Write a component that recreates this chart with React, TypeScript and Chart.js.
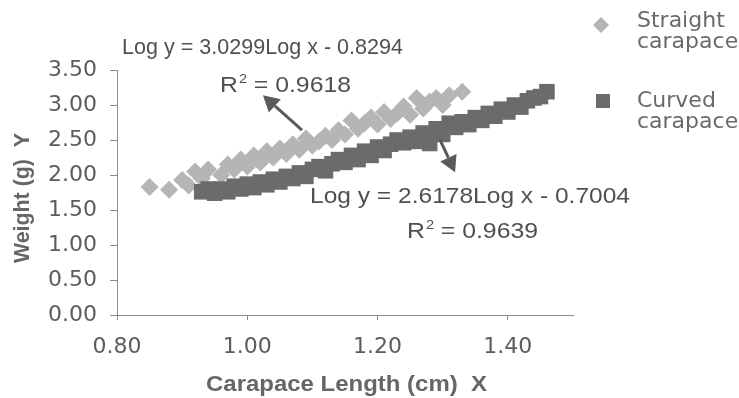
import React, { useEffect, useRef } from "react";
import { Chart, registerables } from "chart.js";

Chart.register(...registerables);

// ---- Data ----
const straightX = [0.85, 0.88, 0.90, 0.91, 0.92, 0.93, 0.94, 0.96, 0.97, 0.98, 0.99, 1.00, 1.01, 1.02, 1.03, 1.04, 1.05, 1.06, 1.07, 1.08, 1.09, 1.10, 1.11, 1.12, 1.13, 1.14, 1.15, 1.16, 1.17, 1.18, 1.19, 1.20, 1.21, 1.22, 1.23, 1.24, 1.25, 1.26, 1.27, 1.28, 1.29, 1.30, 1.31, 1.33];
const straightY = [1.83, 1.79, 1.93, 1.85, 2.05, 1.95, 2.08, 2.00, 2.15, 2.08, 2.22, 2.12, 2.28, 2.18, 2.34, 2.25, 2.38, 2.30, 2.44, 2.36, 2.52, 2.42, 2.48, 2.56, 2.50, 2.64, 2.58, 2.78, 2.66, 2.74, 2.82, 2.72, 2.90, 2.80, 2.88, 2.98, 2.86, 3.10, 2.95, 3.05, 3.10, 3.00, 3.14, 3.19];

const curvedX = [0.93, 0.94, 0.95, 0.96, 0.97, 0.98, 0.99, 1.00, 1.01, 1.02, 1.03, 1.04, 1.05, 1.06, 1.07, 1.08, 1.09, 1.10, 1.11, 1.12, 1.13, 1.14, 1.15, 1.16, 1.17, 1.18, 1.19, 1.20, 1.21, 1.22, 1.23, 1.24, 1.25, 1.26, 1.27, 1.28, 1.29, 1.30, 1.31, 1.32, 1.33, 1.34, 1.35, 1.36, 1.37, 1.38, 1.39, 1.40, 1.41, 1.42, 1.43, 1.44, 1.45, 1.46];
const curvedY = [1.76, 1.80, 1.74, 1.80, 1.76, 1.84, 1.80, 1.87, 1.82, 1.90, 1.86, 1.94, 1.90, 1.98, 1.95, 2.03, 1.98, 2.08, 2.12, 2.06, 2.16, 2.22, 2.18, 2.28, 2.22, 2.34, 2.28, 2.40, 2.35, 2.44, 2.50, 2.46, 2.54, 2.48, 2.60, 2.45, 2.66, 2.58, 2.74, 2.68, 2.76, 2.72, 2.82, 2.78, 2.88, 2.84, 2.94, 2.90, 3.00, 2.97, 3.06, 3.10, 3.12, 3.19];

const seriesNames = ["Straight", "Curved"];
const legendSecondLine = "carapace";
const xTitle = "Carapace Length (cm)  X";
const yTitle = "Weight (g)  Y";
const eqStraight = "Log y = 3.0299Log x - 0.8294";
const r2Straight = "0.9618";
const eqCurved = "Log y = 2.6178Log x - 0.7004";
const r2Curved = "0.9639";

// arrow annotations (data coordinates): [tailX, tailY, tipX, tipY]
const arrowStraight = [1.084, 2.64, 1.024, 3.14];
const arrowCurved = [1.296, 2.5, 1.319, 2.04];

const LIGHT = "#b5b5b5";
const DARK = "#6b6b6b";
const TEXT = "#5c5c5c";
const EQ_FONT = "22px 'Liberation Sans', Arial, sans-serif";

export default function App() {
  const ref = useRef<HTMLCanvasElement>(null);

  useEffect(() => {
    const canvas = ref.current;
    if (!canvas) return;

    // draw text stretched horizontally to a target width, starting at x (left)
    const fillFit = (ctx: CanvasRenderingContext2D, text: string, x: number, y: number, w: number) => {
      const m = ctx.measureText(text).width;
      ctx.save();
      ctx.translate(x, y);
      ctx.scale(w / m, 1);
      ctx.textAlign = "left";
      ctx.fillText(text, 0, 0);
      ctx.restore();
    };

    const drawArrow = (ctx: CanvasRenderingContext2D, x1: number, y1: number, x2: number, y2: number) => {
      const ang = Math.atan2(y2 - y1, x2 - x1);
      const headLen = 16;
      const headW = 9;
      const bx = x2 - Math.cos(ang) * headLen;
      const by = y2 - Math.sin(ang) * headLen;
      ctx.save();
      ctx.strokeStyle = "#5a5a5a";
      ctx.fillStyle = "#5a5a5a";
      ctx.lineWidth = 3;
      ctx.beginPath();
      ctx.moveTo(x1, y1);
      ctx.lineTo(bx, by);
      ctx.stroke();
      ctx.beginPath();
      ctx.moveTo(x2, y2);
      ctx.lineTo(bx + Math.sin(ang) * headW, by - Math.cos(ang) * headW);
      ctx.lineTo(bx - Math.sin(ang) * headW, by + Math.cos(ang) * headW);
      ctx.closePath();
      ctx.fill();
      ctx.restore();
    };

    const drawR2 = (ctx: CanvasRenderingContext2D, x: number, y: number, val: string, total: number) => {
      ctx.font = EQ_FONT;
      const wR = ctx.measureText("R").width;
      const rest = " = " + val;
      const wRest = ctx.measureText(rest).width;
      const supW = 8;
      const natural = wR + supW + wRest;
      const k = total / natural;
      ctx.save();
      ctx.translate(x, y);
      ctx.scale(k, 1);
      ctx.textAlign = "left";
      ctx.fillText("R", 0, 0);
      ctx.font = "13px 'Liberation Sans', Arial, sans-serif";
      ctx.fillText("2", wR + 1, -7);
      ctx.font = EQ_FONT;
      ctx.fillText(rest, wR + supW, 0);
      ctx.restore();
    };

    const overlay = {
      id: "overlay",
      afterDraw(chart: any) {
        const ctx: CanvasRenderingContext2D = chart.ctx;
        const xs = chart.scales.x;
        const ys = chart.scales.y;
        ctx.save();
        ctx.textBaseline = "middle";
        // equations
        ctx.fillStyle = "#505050";
        ctx.font = EQ_FONT;
        fillFit(ctx, eqStraight, 122, 48, 281);
        drawR2(ctx, 220, 86, r2Straight, 131);
        ctx.fillStyle = "#505050";
        ctx.font = EQ_FONT;
        fillFit(ctx, eqCurved, 310, 197, 320);
        drawR2(ctx, 407, 232, r2Curved, 131);

        // arrows
        drawArrow(ctx, xs.getPixelForValue(arrowStraight[0]), ys.getPixelForValue(arrowStraight[1]), xs.getPixelForValue(arrowStraight[2]), ys.getPixelForValue(arrowStraight[3]));
        drawArrow(ctx, xs.getPixelForValue(arrowCurved[0]), ys.getPixelForValue(arrowCurved[1]), xs.getPixelForValue(arrowCurved[2]), ys.getPixelForValue(arrowCurved[3]));

        // axis titles
        ctx.fillStyle = "#666666";
        ctx.font = "bold 22px 'Liberation Sans', Arial, sans-serif";
        fillFit(ctx, xTitle, 206, 385, 281);
        ctx.save();
        ctx.translate(23, 263);
        ctx.rotate(-Math.PI / 2);
        fillFit(ctx, yTitle, 0, 0, 130);
        ctx.restore();

        // legend
        ctx.fillStyle = LIGHT;
        ctx.beginPath();
        ctx.moveTo(601, 17);
        ctx.lineTo(609, 25);
        ctx.lineTo(601, 33);
        ctx.lineTo(593, 25);
        ctx.closePath();
        ctx.fill();
        ctx.fillStyle = DARK;
        ctx.fillRect(596, 94, 14, 14);
        ctx.fillStyle = "#6a6a6a";
        ctx.font = "22px 'DejaVu Sans', sans-serif";
        ctx.textAlign = "left";
        ctx.fillText(seriesNames[0], 637, 21);
        ctx.fillText(legendSecondLine, 637, 42);
        ctx.fillText(seriesNames[1], 637, 101);
        ctx.fillText(legendSecondLine, 637, 122);
        ctx.restore();
      },
    };

    const tickFont = { family: "'DejaVu Sans', sans-serif", size: 22 };

    const chart = new Chart(canvas, {
      type: "scatter",
      data: {
        datasets: [
          {
            label: "Straight carapace",
            data: straightX.map((x, i) => ({ x, y: straightY[i] })),
            pointStyle: "rectRot",
            pointRadius: 9,
            backgroundColor: LIGHT,
            borderColor: LIGHT,
            borderWidth: 0,
            order: 2,
          },
          {
            label: "Curved carapace",
            data: curvedX.map((x, i) => ({ x, y: curvedY[i] })),
            pointStyle: "rect",
            pointRadius: 11,
            backgroundColor: DARK,
            borderColor: DARK,
            borderWidth: 0,
            order: 1,
          },
        ],
      },
      options: {
        animation: false,
        responsive: false,
        events: [],
        layout: { padding: { top: 70, right: 166, left: 0, bottom: 0 } },
        plugins: { legend: { display: false }, tooltip: { enabled: false } },
        scales: {
          x: {
            type: "linear",
            min: 0.8,
            max: 1.5,
            afterFit: (s: any) => { s.height = 83; },
            ticks: {
              stepSize: 0.2,
              includeBounds: false,
              maxRotation: 0,
              autoSkip: false,
              padding: 14,
              color: TEXT,
              font: tickFont,
              callback: (v: any) => Number(v).toFixed(2),
            },
            grid: { drawOnChartArea: false, tickLength: 5, color: "#8c8c8c" },
            border: { color: "#8c8c8c" },
          },
          y: {
            type: "linear",
            min: 0,
            max: 3.5,
            afterFit: (s: any) => { s.width = 117; },
            ticks: {
              stepSize: 0.5,
              padding: 13,
              color: TEXT,
              font: tickFont,
              callback: (v: any) => Number(v).toFixed(2),
            },
            grid: { drawOnChartArea: false, tickLength: 7, color: "#8c8c8c" },
            border: { color: "#8c8c8c" },
          },
        },
      },
      plugins: [overlay],
    });

    return () => chart.destroy();
  }, []);

  return (
    <div style={{ position: "fixed", left: 0, top: 0, width: 739, height: 398, background: "#fff" }}>
      <canvas ref={ref} width={739} height={398} style={{ display: "block" }} />
    </div>
  );
}
